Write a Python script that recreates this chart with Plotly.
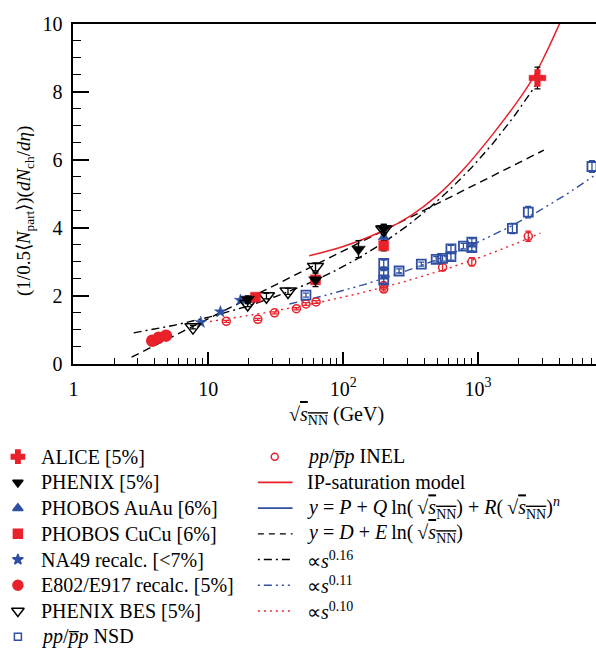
import numpy as np
import plotly.graph_objects as go

RED = "#e8212b"
BLUE = "#2f4fa2"
BLACK = "#000000"
FONT = "Liberation Serif"

# ---- measured charged-particle densities per participant pair ----
alice_x = [2760]
alice_y = [8.4]
alice_err = [0.32]

phenix_x = [19.6, 62.4, 130, 200]
phenix_y = [1.90, 2.47, 3.37, 3.98]
phenix_err = [0.10, 0.20, 0.25, 0.12]

phobos_au_x = [19.6, 200]
phobos_au_y = [1.87, 3.72]
phobos_au_err = [0.10, 0.15]

phobos_cu_x = [22.4, 62.4, 200]
phobos_cu_y = [1.96, 2.47, 3.47]
phobos_cu_err = [0.08, 0.12, 0.15]

na49_x = [8.8, 12.3, 17.3]
na49_y = [1.22, 1.53, 1.87]

e802_x = [3.84, 4.29, 4.86]
e802_y = [0.68, 0.77, 0.83]

bes_x = [7.7, 19.6, 27, 39, 62.4, 200]
bes_y = [1.08, 1.76, 1.99, 2.13, 2.85, 3.95]
bes_err = [0.05, 0.08, 0.08, 0.09, 0.12, 0.15]

nsd_x = [53, 200, 200, 200, 260, 380, 490, 546, 630, 630, 780, 900, 900, 1800, 2360, 7000]
nsd_y = [2.02, 2.47, 2.64, 2.95, 2.73, 2.93, 3.07, 3.10, 3.15, 3.38, 3.46, 3.42, 3.58, 3.98, 4.46, 5.80]
nsd_err = [0.06, 0.10, 0.10, 0.10, 0.06, 0.06, 0.08, 0.08, 0.10, 0.10, 0.08, 0.10, 0.10, 0.15, 0.17, 0.17]

inel_x = [13.6, 23.3, 31, 45, 53, 63, 200, 200, 546, 900, 2360]
inel_y = [1.25, 1.31, 1.50, 1.62, 1.76, 1.82, 2.20, 2.30, 2.84, 3.00, 3.75]
inel_err = [0.03, 0.03, 0.03, 0.03, 0.04, 0.04, 0.06, 0.06, 0.10, 0.12, 0.15]

# ---- model / fit curves ----
ipsat_x = [56, 100, 200, 316, 500, 794, 1259, 1995, 2594, 3162, 4030]
ipsat_y = [3.18, 3.45, 3.92, 4.35, 4.95, 5.75, 6.70, 7.75, 8.44, 9.10, 10.0]

# y = D + E ln(sqrt(s_NN))
lin_D, lin_E = -0.66, 0.864
lin_range = [2.7, 3080]

# power laws in s = s_NN  (sqrt(s_NN) on the axis)
pow16_A, pow16_n, pow16_range = 0.655, 0.16, [2.8, 3080]
pow11_A, pow11_n, pow11_range = 0.782, 0.11, [40, 7500]
pow10_A, pow10_n, pow10_range = 0.78, 0.10, [10.3, 2900]


def grid(r, n=200):
    return np.logspace(np.log10(r[0]), np.log10(r[1]), n)


fig = go.Figure()

# curves
g = grid(lin_range, 2)
fig.add_trace(go.Scatter(x=g, y=lin_D + lin_E * np.log(g), mode="lines",
                         line=dict(color=BLACK, width=1.4, dash="8px,5px")))
g = grid(pow16_range)
fig.add_trace(go.Scatter(x=g, y=pow16_A * (g ** 2) ** pow16_n, mode="lines",
                         line=dict(color=BLACK, width=1.4, dash="8px,4px,2px,4px")))
g = grid(pow11_range)
fig.add_trace(go.Scatter(x=g, y=pow11_A * (g ** 2) ** pow11_n, mode="lines",
                         line=dict(color=BLUE, width=1.4, dash="8px,4px,2px,4px,2px,4px")))
g = grid(pow10_range)
fig.add_trace(go.Scatter(x=g, y=pow10_A * (g ** 2) ** pow10_n, mode="lines",
                         line=dict(color=RED, width=1.4, dash="2px,4px")))
fig.add_trace(go.Scatter(x=ipsat_x, y=ipsat_y, mode="lines", line_shape="spline",
                         line=dict(color=RED, width=1.5)))


def pts(x, y, symbol, color, size, err=None, ecolor=BLACK, lw=1.5):
    kw = {}
    if err is not None:
        kw["error_y"] = dict(type="data", array=err, color=ecolor, thickness=1.3, width=3)
    fig.add_trace(go.Scatter(x=x, y=y, mode="markers",
                             marker=dict(symbol=symbol, color=color, size=size,
                                         line=dict(color=color, width=lw)), **kw))


pts(inel_x, inel_y, "circle-open", RED, 8, inel_err, RED)
pts(nsd_x, nsd_y, "square-open", BLUE, 9, nsd_err, BLUE, 1.8)
pts(e802_x, e802_y, "circle", RED, 11)
pts(na49_x, na49_y, "star", BLUE, 9, lw=0.5)
pts(phobos_au_x, phobos_au_y, "triangle-up", BLUE, 10, phobos_au_err, BLACK, 0.5)
pts(bes_x, bes_y, "triangle-down-open", BLACK, 14, bes_err, BLACK, 1.5)
pts(phobos_cu_x, phobos_cu_y, "square", RED, 10, phobos_cu_err, BLACK, 0.5)
pts(phenix_x, phenix_y, "triangle-down", BLACK, 12, phenix_err, BLACK, 0.5)
pts(alice_x, alice_y, "cross", RED, 14, alice_err, BLACK, 0.5)

for tr in fig.data:
    tr.showlegend = False
    tr.hoverinfo = "skip"

# ---- legend drawn in pixel space on a full-page overlay axis ----
left_entries = [
    ("ALICE [5%]", "cross", RED, 11),
    ("PHENIX [5%]", "triangle-down", BLACK, 9),
    ("PHOBOS AuAu [6%]", "triangle-up", BLUE, 9),
    ("PHOBOS CuCu [6%]", "square", RED, 9),
    ("NA49 recalc. [&lt;7%]", "star", BLUE, 8),
    ("E802/E917 recalc. [5%]", "circle", RED, 10),
    ("PHENIX BES [5%]", "triangle-down-open", BLACK, 11),
    ("<i>pp</i>/<i>p\u0305p</i> NSD", "square-open", BLUE, 7),
]
sq = "\u221a<span style='text-decoration:overline'><i>s</i><sub>NN</sub></span>"
right_entries = [
    ("<i>pp</i>/<i>p\u0305p</i> INEL", "marker", RED, None),
    ("IP-saturation model", "solid", RED, 1.6),
    ("<i>y</i> = <i>P</i> + <i>Q</i>\u2009ln(\u2009" + sq + ") + <i>R</i>(\u2009" + sq + ")<sup><i>n</i></sup>", "solid", BLUE, 1.8),
    ("<i>y</i> = <i>D</i> + <i>E</i>\u2009ln(\u2009" + sq + ")", "6px,5px", BLACK, 1.4),
    ("\u221d<i>s</i><sup>0.16</sup>", "2px,4px,8px,4px", BLACK, 1.4),
    ("\u221d<i>s</i><sup>0.11</sup>", "2px,4px,8px,4px,2px,4px,2px,4px", BLUE, 1.4),
    ("\u221d<i>s</i><sup>0.10</sup>", "2px,4px", RED, 1.4),
]
row0, step = 461, 26.6
annots = []
for i, (txt, sym, col, sz) in enumerate(left_entries):
    yy = row0 + i * step
    fig.add_trace(go.Scatter(x=[13], y=[yy], mode="markers", xaxis="x2", yaxis="y2",
                             marker=dict(symbol=sym, color=col, size=sz, line=dict(color=col, width=1.5)),
                             showlegend=False, hoverinfo="skip"))
    annots.append(dict(x=34, y=yy, xref="x2", yref="y2", text=txt, showarrow=False,
                       xanchor="left", yanchor="middle", font=dict(size=20, family=FONT, color=BLACK)))
for i, (txt, kind, col, w) in enumerate(right_entries):
    yy = row0 + i * step
    if kind == "marker":
        fig.add_trace(go.Scatter(x=[272], y=[yy], mode="markers", xaxis="x2", yaxis="y2",
                                 marker=dict(symbol="circle-open", color=col, size=7, line=dict(color=col, width=1.5)),
                                 showlegend=False, hoverinfo="skip"))
    else:
        fig.add_trace(go.Scatter(x=[255, 290], y=[yy, yy], mode="lines", xaxis="x2", yaxis="y2",
                                 line=dict(color=col, width=w, dash=kind),
                                 showlegend=False, hoverinfo="skip"))
    annots.append(dict(x=303, y=yy, xref="x2", yref="y2", text=txt, showarrow=False,
                       xanchor="left", yanchor="middle", font=dict(size=20, family=FONT, color=BLACK)))

# axis titles
annots.append(dict(x=20, y=207, xref="x2", yref="y2", textangle=-90, showarrow=False,
                   text="(1/0.5\u27e8<i>N</i><sub>part</sub>\u27e9)(<i>dN</i><sub>ch</sub>/<i>d\u03b7</i>)",
                   font=dict(size=19, family=FONT, color=BLACK)))
annots.append(dict(x=334, y=418, xref="x2", yref="y2", showarrow=False,
                   text=sq + " (GeV)", font=dict(size=20, family=FONT, color=BLACK)))

W, H = 596, 663
minor_x = [m * 10 ** d for d in range(0, 4) for m in range(2, 10) if m * 10 ** d < 7600]
fig.update_layout(
    width=W, height=H, margin=dict(l=0, r=0, t=0, b=0),
    paper_bgcolor="white", plot_bgcolor="rgba(0,0,0,0)",
    font=dict(family=FONT, size=20, color=BLACK),
    showlegend=False,
    annotations=annots,
    xaxis=dict(type="log", range=[0, np.log10(7500)], domain=[69 / W, 1], anchor="y",
               tickvals=[1, 10, 100, 1000], ticktext=["1", "10", "10<sup>2</sup>", "10<sup>3</sup>"],
               ticks="inside", ticklen=12, tickwidth=1.5, tickcolor=BLACK,
               ticklabelstandoff=6,
               showline=True, linecolor=BLACK, linewidth=2, mirror=True,
               showgrid=False, zeroline=False,
               minor=dict(tickvals=minor_x, ticks="inside", ticklen=6, tickwidth=1.2,
                          tickcolor=BLACK, showgrid=False),
               tickfont=dict(size=20, family=FONT)),
    yaxis=dict(range=[0, 10], domain=[(H - 365) / H, (H - 13) / H], anchor="x",
               tickvals=[0, 2, 4, 6, 8, 10],
               ticks="inside", ticklen=16, tickwidth=1.5, tickcolor=BLACK,
               ticklabelstandoff=5,
               showline=True, linecolor=BLACK, linewidth=2,
               showgrid=False, zeroline=False,
               minor=dict(dtick=0.5, ticks="inside", ticklen=8, tickwidth=1.2,
                          tickcolor=BLACK, showgrid=False),
               tickfont=dict(size=20, family=FONT)),
    xaxis2=dict(range=[0, W], domain=[0, 1], visible=False, anchor="y2", fixedrange=True),
    yaxis2=dict(range=[H, 0], domain=[0, 1], visible=False, anchor="x2", fixedrange=True),
)

fig.write_html("out.html")
